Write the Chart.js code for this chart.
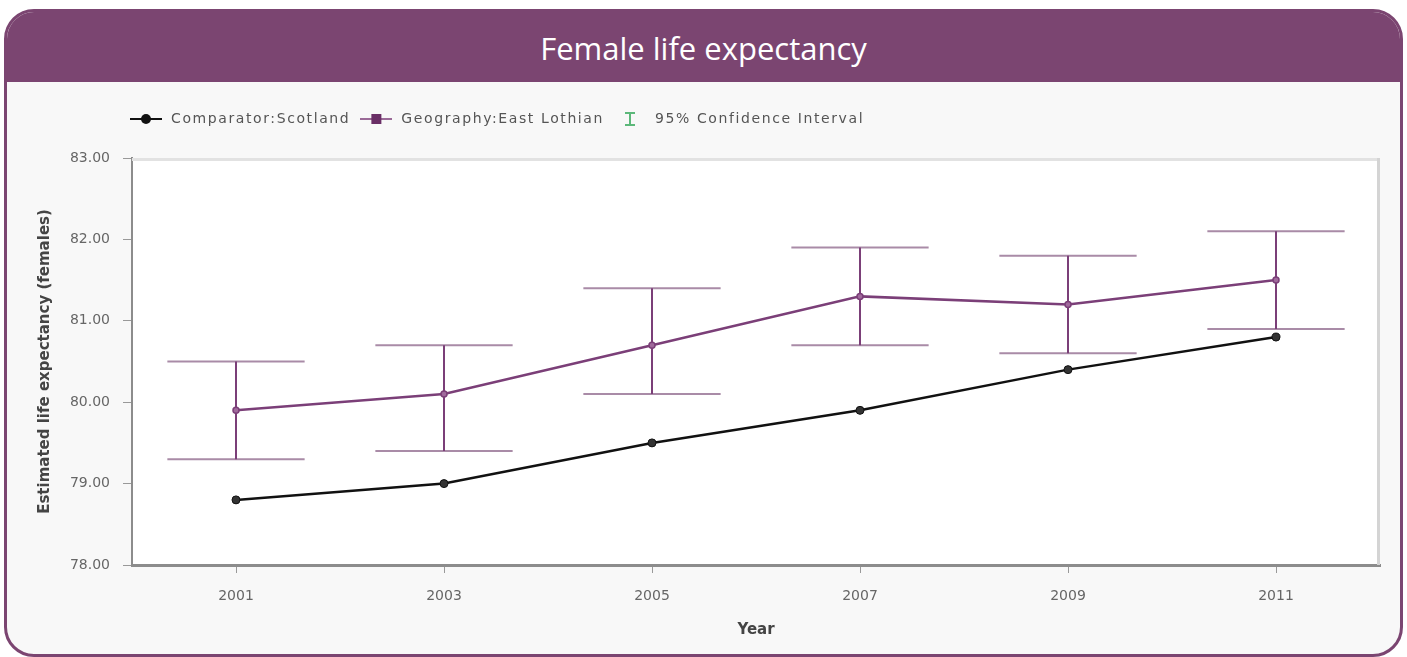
<!DOCTYPE html>
<html>
<head>
<meta charset="utf-8">
<title>Female life expectancy</title>
<script src="https://cdn.jsdelivr.net/npm/chart.js@4.4.1/dist/chart.umd.min.js"></script>
<style>
  html, body { margin: 0; padding: 0; background: #fff; }
  body { width: 1407px; height: 657px; overflow: hidden; position: relative; }
  .card {
    position: absolute; left: 4px; top: 9px;
    width: 1393px; height: 642px;
    border: 3px solid #7b4571; border-radius: 30px;
    background: #f8f8f8; overflow: hidden;
  }
  .card h1 {
    margin: 0; height: 70px;
    background: #7b4571; color: #fff; text-align: center;
    font: 400 31px 'Open Sans', sans-serif;
    line-height: 72px;
  }
  .plot { position: absolute; left: 2px; top: 70px; width: 1390px; height: 572px; }
</style>
</head>
<body>
<div class="card">
  <h1>Female life expectancy</h1>
  <div class="plot"><canvas id="chartLife" width="1390" height="572"></canvas></div>
</div>
<script>
// ── data ──────────────────────────────────────────────────
const years       = ['2001', '2003', '2005', '2007', '2009', '2011'];
const scotland    = [78.8, 79.0, 79.5, 79.9, 80.4, 80.8];
const eastLothian = [79.9, 80.1, 80.7, 81.3, 81.2, 81.5];
const ciLower     = [79.3, 79.4, 80.1, 80.7, 80.6, 80.9];
const ciUpper     = [80.5, 80.7, 81.4, 81.9, 81.8, 82.1];
const yTicks      = [78, 79, 80, 81, 82, 83];

const COLORS = {
  black:  '#111111',
  purple: '#7b3f78',
  cap:    '#a98ba7',
  green:  '#5cb87a',
  axis:   '#8c8c8c',
  text:   '#666666',
  title:  '#444444',
};

const FONT = 'DejaVu Sans';

// ── legend icons (small canvases used as point styles) ────
function lineIcon(lineColor, markColor, marker) {
  const c = document.createElement('canvas');
  c.width = 32; c.height = 14;
  const g = c.getContext('2d');
  g.strokeStyle = lineColor; g.lineWidth = 2;
  g.beginPath(); g.moveTo(0, 7); g.lineTo(32, 7); g.stroke();
  g.fillStyle = markColor;
  if (marker === 'circle') {
    g.beginPath(); g.arc(16, 7, 5, 0, Math.PI * 2); g.fill();
  } else {
    g.fillRect(11, 2, 10, 10);
  }
  return c;
}

function ciIcon() {
  const c = document.createElement('canvas');
  c.width = 12; c.height = 16;
  const g = c.getContext('2d');
  g.strokeStyle = COLORS.green; g.lineWidth = 2;
  g.beginPath();
  g.moveTo(1, 2); g.lineTo(11, 2);
  g.moveTo(6, 2); g.lineTo(6, 14);
  g.moveTo(1, 14); g.lineTo(11, 14);
  g.stroke();
  return c;
}

// ── plugins ───────────────────────────────────────────────
// white plot background + light top/right frame
const plotFrame = {
  id: 'plotFrame',
  beforeDraw(chart) {
    const { ctx, chartArea: a } = chart;
    ctx.save();
    ctx.fillStyle = '#ffffff';
    ctx.fillRect(a.left, a.top, a.right - a.left, a.bottom - a.top);
    ctx.restore();
  },
  beforeDatasetsDraw(chart) {
    const { ctx, chartArea: a } = chart;
    ctx.save();
    ctx.strokeStyle = '#e2e2e2'; ctx.lineWidth = 3;
    ctx.beginPath(); ctx.moveTo(a.left, a.top + 1.5); ctx.lineTo(a.right, a.top + 1.5); ctx.stroke();
    ctx.strokeStyle = '#d4d4d4'; ctx.lineWidth = 3;
    ctx.beginPath(); ctx.moveTo(a.right - 1.5, a.top); ctx.lineTo(a.right - 1.5, a.bottom); ctx.stroke();
    ctx.restore();
  },
};

// 95% confidence interval bars for East Lothian
const errorBars = {
  id: 'errorBars',
  beforeDatasetsDraw(chart) {
    const { ctx, scales: { x, y } } = chart;
    const half = (x.getPixelForValue(1) - x.getPixelForValue(0)) * 0.33;
    ctx.save();
    ctx.lineWidth = 2;
    ciLower.forEach((lo, i) => {
      const px  = x.getPixelForValue(i);
      const top = y.getPixelForValue(ciUpper[i]);
      const bot = y.getPixelForValue(lo);
      ctx.strokeStyle = COLORS.cap;
      ctx.beginPath();
      ctx.moveTo(px - half, top); ctx.lineTo(px + half, top);
      ctx.moveTo(px - half, bot); ctx.lineTo(px + half, bot);
      ctx.stroke();
      ctx.strokeStyle = COLORS.purple;
      ctx.beginPath(); ctx.moveTo(px, top); ctx.lineTo(px, bot); ctx.stroke();
    });
    ctx.restore();
  },
};

// legend: wide letter spacing, fixed height, shifted to sit over the plot
const LEGEND_SPACING = '1.6px';
const LEGEND_HEIGHT  = 54;
const LEGEND_SHIFT   = 111;
const legendTweaks = {
  id: 'legendTweaks',
  beforeInit(chart) {
    const legend = chart.legend;
    const fit  = legend.fit;
    const draw = legend.draw;
    legend.fit = function () {
      this.ctx.save();
      this.ctx.letterSpacing = LEGEND_SPACING;
      fit.call(this);
      this.ctx.restore();
      this.height = LEGEND_HEIGHT;
    };
    legend.draw = function () {
      this.ctx.save();
      this.ctx.letterSpacing = LEGEND_SPACING;
      this.ctx.translate(LEGEND_SHIFT, 0);
      draw.call(this);
      this.ctx.restore();
    };
  },
};

const icons = [
  lineIcon(COLORS.black, COLORS.black, 'circle'),
  lineIcon('#9a6a97', '#6a2f66', 'square'),
  ciIcon(),
];
const legendTexts = ['Comparator:Scotland', 'Geography:East Lothian', '95% Confidence Interval'];

// ── chart ─────────────────────────────────────────────────
new Chart(document.getElementById('chartLife'), {
  type: 'line',
  data: {
    labels: years,
    datasets: [
      {
        label: legendTexts[0],
        data: scotland,
        borderColor: COLORS.black,
        borderWidth: 2.5,
        pointRadius: 4,
        pointBackgroundColor: '#333333',
        pointBorderColor: COLORS.black,
        pointBorderWidth: 1,
        tension: 0,
      },
      {
        label: legendTexts[1],
        data: eastLothian,
        borderColor: COLORS.purple,
        borderWidth: 2.5,
        pointRadius: 3,
        pointBackgroundColor: '#a06a9c',
        pointBorderColor: COLORS.purple,
        pointBorderWidth: 1.5,
        tension: 0,
      },
    ],
  },
  options: {
    responsive: false,
    animation: false,
    devicePixelRatio: 1,
    layout: { padding: { top: 22, right: 19, bottom: 0, left: 0 } },
    plugins: {
      tooltip: { enabled: false },
      legend: {
        display: true,
        position: 'top',
        align: 'start',
        labels: {
          usePointStyle: true,
          pointStyleWidth: 36,
          padding: 8,
          color: '#555555',
          font: { family: FONT, size: 14 },
          generateLabels: () => legendTexts.map((text, i) => ({
            text,
            pointStyle: icons[i],
            fillStyle: 'rgba(0,0,0,0)',
            strokeStyle: 'rgba(0,0,0,0)',
            lineWidth: 0,
            hidden: false,
            fontColor: '#555555',
            datasetIndex: i,
          })),
        },
      },
    },
    scales: {
      x: {
        offset: true,
        grid: { display: true, drawOnChartArea: false, drawTicks: true, tickLength: 8, color: '#999999' },
        border: { display: true, color: COLORS.axis, width: 3 },
        ticks: { color: COLORS.text, font: { family: FONT, size: 14 }, padding: 15 },
        title: {
          display: true, text: 'Year', color: COLORS.title,
          font: { family: FONT, size: 15, weight: 'bold' },
          padding: { top: 0, bottom: 15 },
        },
        afterFit(scale) { scale.height = 89; },
      },
      y: {
        min: yTicks[0],
        max: yTicks[yTicks.length - 1],
        afterBuildTicks(scale) { scale.ticks = yTicks.map(v => ({ value: v })); },
        grid: { display: true, drawOnChartArea: false, drawTicks: true, tickLength: 9, color: '#999999' },
        border: { display: true, color: COLORS.axis, width: 2 },
        ticks: {
          color: COLORS.text,
          font: { family: FONT, size: 14 },
          padding: 13,
          callback: v => (+v).toFixed(2),
        },
        title: {
          display: true, text: 'Estimated life expectancy (females)', color: COLORS.title,
          font: { family: FONT, size: 15, weight: 'bold' },
          padding: { top: 27, bottom: 0 },
        },
        afterFit(scale) { scale.width = 123; },
      },
    },
  },
  plugins: [legendTweaks, plotFrame, errorBars],
});
</script>
</body>
</html>
